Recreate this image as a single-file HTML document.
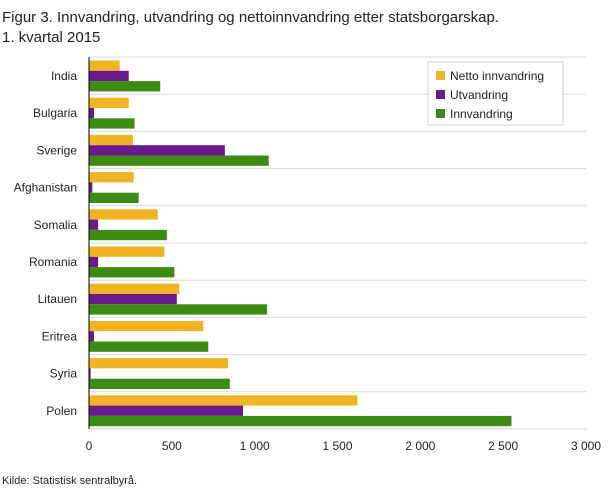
<!DOCTYPE html>
<html><head><meta charset="utf-8"><style>
body{margin:0;background:#fff;font-family:"Liberation Sans",sans-serif;}
</style></head><body>
<svg width="609" height="489" xmlns="http://www.w3.org/2000/svg" font-family="Liberation Sans, sans-serif">
<text x="2" y="22" font-size="15" fill="#222">Figur 3. Innvandring, utvandring og nettoinnvandring etter statsborgarskap.</text>
<text x="2" y="42" font-size="15" fill="#222">1. kvartal 2015</text>
<g id="grid"></g><g id="bars"></g><g id="labels"></g>
<line x1="89" y1="57" x2="89" y2="429" stroke="#000" stroke-width="1"/>
<g>
<rect x="428" y="62" width="135" height="63" fill="#fff" stroke="#ccc"/>
<rect x="436" y="71" width="9" height="9" fill="#f0b323"/>
<text x="450" y="80" font-size="12" fill="#222">Netto innvandring</text>
<rect x="436" y="90" width="9" height="9" fill="#6b1a8c"/>
<text x="450" y="99" font-size="12" fill="#222">Utvandring</text>
<rect x="436" y="109" width="9" height="9" fill="#3d8b12"/>
<text x="450" y="118" font-size="12" fill="#222">Innvandring</text>
</g>
<text x="2" y="484" font-size="11" fill="#222">Kilde: Statistisk sentralbyrå.</text>
</svg>
<script>
const categories=["India","Bulgaria","Sverige","Afghanistan","Somalia","Romania","Litauen","Eritrea","Syria","Polen"];
const netto=[185,240,265,270,415,455,545,690,840,1620];
const utvandring=[240,30,820,20,55,55,530,30,10,930];
const innvandring=[430,275,1085,300,470,515,1075,720,850,2550];
const ticks=[0,500,1000,1500,2000,2500,3000];
const tickLabels=["0","500","1 000","1 500","2 000","2 500","3 000"];
const NS="http://www.w3.org/2000/svg";
const x0=89,x1=586,xmax=3000,yTop=57,pitch=37.2;
const xs=v=>x0+v/xmax*(x1-x0);
const grid=document.getElementById('grid'),bars=document.getElementById('bars'),labels=document.getElementById('labels');
function mk(t,a){const e=document.createElementNS(NS,t);for(const k in a)e.setAttribute(k,a[k]);return e;}
for(let i=0;i<=categories.length;i++){
 const l=mk('line',{x1:x0,x2:x1,y1:yTop+i*pitch,y2:yTop+i*pitch,stroke:'#d9d9d9','stroke-width':1});
 
 
 grid.appendChild(l);
}
const series=[[netto,'#f0b323','netto'],[utvandring,'#6b1a8c','utvandring'],[innvandring,'#3d8b12','innvandring']];
categories.forEach((c,i)=>{
 const y=yTop+i*pitch+3.5;
 series.forEach((s,j)=>{
  const r=mk('rect',{x:x0,y:y+j*10.3,width:xs(s[0][i])-x0,height:10.3,fill:s[1]});
  
  
  bars.appendChild(r);
 });
 const t=mk('text',{x:77,y:yTop+i*pitch+23,'font-size':12,fill:'#222','text-anchor':'end'});
 t.textContent=c;
 
 
 labels.appendChild(t);
});
ticks.forEach((v,i)=>{
 const t=mk('text',{x:xs(v),y:450,'font-size':12,fill:'#222','text-anchor':'middle'});
 t.textContent=tickLabels[i];
 
 
 labels.appendChild(t);
});
</script>
</body></html>
